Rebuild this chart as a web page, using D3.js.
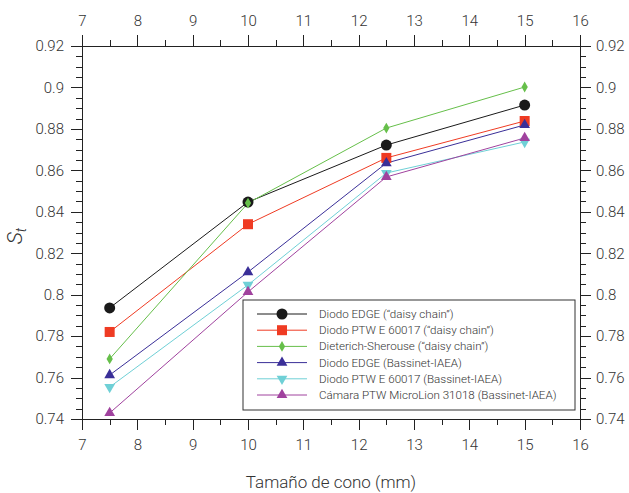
<!DOCTYPE html>
<meta charset="utf-8">
<style>
body { margin: 0; background: #fff; }
svg text { font-family: Roboto, "Liberation Sans", sans-serif; font-weight: 300; fill: #333; }
.axis path, .axis line { stroke: #222; shape-rendering: crispEdges; }
</style>
<svg width="629" height="493"></svg>
<script src="https://d3js.org/d3.v7.min.js"></script>
<script>

// Tamaño de cono (mm)
var conos = [7.5, 10, 12.5, 15];

var edgeDaisy = [0.7936, 0.8447, 0.8722, 0.8915];
var ptwDaisy = [0.782, 0.834, 0.866, 0.8838];
var dsDaisy = [0.769, 0.8442, 0.8804, 0.9002];
var edgeIaea = [0.7612, 0.8109, 0.8635, 0.8819];
var ptwIaea = [0.7554, 0.8047, 0.8587, 0.8737];
var microIaea = [0.7429, 0.8013, 0.8568, 0.8756];

var nombres = [
  "Diodo EDGE (\u201cdaisy chain\u201d)",
  "Diodo PTW E 60017 (\u201cdaisy chain\u201d)",
  "Dieterich-Sherouse (\u201cdaisy chain\u201d)",
  "Diodo EDGE (Bassinet-IAEA)",
  "Diodo PTW E 60017 (Bassinet-IAEA)",
  "Cámara PTW MicroLion 31018 (Bassinet-IAEA)"
];

var xTicks = [7, 8, 9, 10, 11, 12, 13, 14, 15, 16];
var yTicks = [0.74, 0.76, 0.78, 0.8, 0.82, 0.84, 0.86, 0.88, 0.9, 0.92];

var series = [
  { nombre: nombres[0], valores: edgeDaisy, color: "#1a1a1a", simbolo: d3.symbolCircle, size: 95 },
  { nombre: nombres[1], valores: ptwDaisy, color: "#ef3b23", simbolo: d3.symbolSquare, size: 100 },
  { nombre: nombres[2], valores: dsDaisy, color: "#66bf4a", simbolo: d3.symbolDiamond, size: 34 },
  { nombre: nombres[3], valores: edgeIaea, color: "#3a2f98", simbolo: d3.symbolTriangle, size: 50 },
  { nombre: nombres[4], valores: ptwIaea, color: "#6fd0d6", simbolo: d3.symbolTriangle, size: 50, flip: true },
  { nombre: nombres[5], valores: microIaea, color: "#a0429e", simbolo: d3.symbolTriangle, size: 50 }
];

var svg = d3.select("svg");
var margin = { left: 82, right: 49, top: 46, bottom: 74 };
var W = 629, H = 493;

var x = d3.scaleLinear().domain([7, 16]).range([margin.left, W - margin.right]);
var y = d3.scaleLinear().domain([0.74, 0.92]).range([H - margin.bottom, margin.top]);

var fmt = function(d) { return d3.format(".2f")(d).replace(/0$/, ""); };
var xMinor = d3.range(7, 16.01, 0.5);
var yMinor = d3.range(0.74, 0.9201, 0.005);

// ejes menores
function minor(axis, vals) {
  return axis.tickValues(vals).tickSize(6).tickFormat("");
}
svg.append("g").attr("class", "axis").attr("transform", "translate(0," + y.range()[0] + ")")
  .call(minor(d3.axisBottom(x), xMinor));
svg.append("g").attr("class", "axis").attr("transform", "translate(0," + y.range()[1] + ")")
  .call(minor(d3.axisTop(x), xMinor));
svg.append("g").attr("class", "axis").attr("transform", "translate(" + x.range()[0] + ",0)")
  .call(minor(d3.axisLeft(y), yMinor));
svg.append("g").attr("class", "axis").attr("transform", "translate(" + x.range()[1] + ",0)")
  .call(minor(d3.axisRight(y), yMinor));

// ejes mayores
svg.append("g").attr("class", "axis").attr("transform", "translate(0," + y.range()[0] + ")")
  .call(d3.axisBottom(x).tickValues(xTicks).tickSize(11).tickPadding(9).tickFormat(d3.format("d")));
svg.append("g").attr("class", "axis").attr("transform", "translate(0," + y.range()[1] + ")")
  .call(d3.axisTop(x).tickValues(xTicks).tickSize(11).tickPadding(9).tickFormat(d3.format("d")));
svg.append("g").attr("class", "axis").attr("transform", "translate(" + x.range()[0] + ",0)")
  .call(d3.axisLeft(y).tickValues(yTicks).tickSize(11).tickPadding(7).tickFormat(fmt));
svg.append("g").attr("class", "axis").attr("transform", "translate(" + x.range()[1] + ",0)")
  .call(d3.axisRight(y).tickValues(yTicks).tickSize(11).tickPadding(5).tickFormat(fmt));
svg.selectAll(".axis text").style("font-size", "15px").attr("fill", "#3a3a3a");

// lineas
var line = d3.line().x(function(d, i) { return x(conos[i]); }).y(function(d) { return y(d); });

series.forEach(function(s) {
  svg.append("path")
    .datum(s.valores)
    .attr("fill", "none")
    .attr("stroke", s.color)
    .attr("stroke-width", 1)
    .attr("d", line);
});

series.forEach(function(s) {
  svg.append("g").selectAll("path")
    .data(s.valores)
    .enter().append("path")
      .attr("d", d3.symbol().type(s.simbolo).size(s.size))
      .attr("fill", s.color)
      .attr("transform", function(d, i) {
        return "translate(" + x(conos[i]) + "," + y(d) + ")" + (s.flip ? " rotate(180)" : "");
      });
});

// leyenda
var leg = svg.append("g").attr("transform", "translate(243,300)");
leg.append("rect")
  .attr("width", 332).attr("height", 110)
  .attr("fill", "#fff").attr("stroke", "#333").attr("stroke-width", 1);

series.forEach(function(s, i) {
  var yy = 14 + i * 16.2;
  leg.append("line")
    .attr("x1", 14).attr("x2", 64).attr("y1", yy).attr("y2", yy)
    .attr("stroke", s.color).attr("stroke-width", 1);
  leg.append("path")
    .attr("d", d3.symbol().type(s.simbolo).size(s.size))
    .attr("fill", s.color)
    .attr("transform", "translate(39," + yy + ")" + (s.flip ? " rotate(180)" : ""));
  leg.append("text")
    .attr("x", 76).attr("y", yy).attr("dy", "0.35em")
    .style("font-size", "11.6px")
    .text(s.nombre);
});

// titulos
svg.append("text")
  .attr("x", (x.range()[0] + x.range()[1]) / 2)
  .attr("y", 482)
  .attr("text-anchor", "middle")
  .attr("dy", "0.35em")
  .style("font-size", "17px")
  .text("Tamaño de cono (mm)");

var yt = svg.append("text")
  .attr("transform", "translate(22,236) rotate(-90)")
  .attr("text-anchor", "middle")
  .style("font-size", "21px")
  .style("font-style", "italic");
yt.append("tspan").text("S");
yt.append("tspan").attr("dy", 4).style("font-size", "14px").text("t");

</script>
